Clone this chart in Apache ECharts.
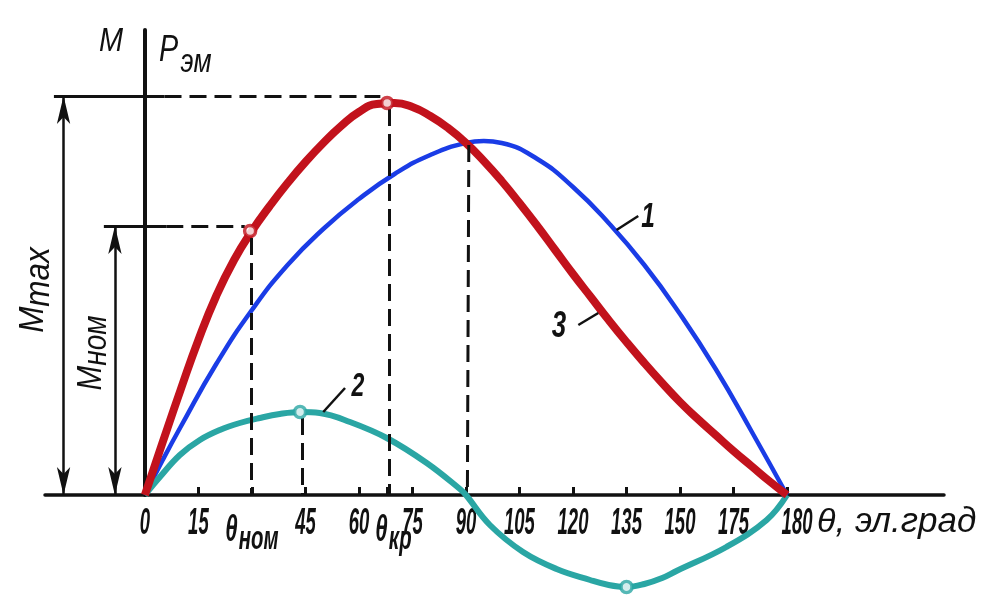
<!DOCTYPE html>
<html><head><meta charset="utf-8">
<script src="https://cdn.jsdelivr.net/npm/echarts@6/dist/echarts.min.js"></script>
<style>html,body{margin:0;padding:0;background:#fff}#c{width:982px;height:601px}</style>
</head><body><div id="c"></div>
<script>
// Curve 1 (blue), curve 3 (red), curve 2 (teal): [angle θ in el. degrees, value]
const curve1 = [[0,0],[5,35],[10,68],[20,131],[30,185],[40,230],[50,266],[60,296],[70,321],[80,340],[90,352],[95,354],[100,352],[110,336],[120,308],[130,272],[140,230],[150,181],[160,126],[170,64],[180,0]];
const curve3 = [[0,0],[5,53],[10,105],[15,155],[20,199],[25,235],[30,264],[35,289],[40,312],[45,333],[50,352],[55,369],[60,383],[65,391],[70,392],[75,388],[80,379],[85,367],[90,352],[95,334],[100,314],[105,292],[110,269],[115,245],[120,221],[125,198],[130,175],[135,153],[140,132],[145,112],[150,93],[155,76],[160,60],[165,44],[170,29],[175,14],[180,0]];
const curve2 = [[0,0],[4.2,18],[9.8,40],[15.4,55],[21,65],[26.6,72],[32.2,77],[37.8,81],[43.5,83],[49,82],[57.5,73],[67.8,57],[79,32],[88.3,6],[90,0],[96.7,-30],[106,-57],[115.4,-74],[124.8,-85],[130,-90],[135,-92],[140,-89],[145,-83],[149,-76],[163,-52],[174.3,-25],[180,0]];
const redPoints = [[29.5,264],[67.9,392]];
const tealPoints = [[43.5,83],[135,-92]];
const tickValues = [15,30,45,60,68,75,90,105,120,135,150,165,180];
const labelValues = [0,15,30,45,60,68,75,90,105,120,135,150,165,180];
const labelText = {0:'0',15:'15',30:'{t|θ}{s|ном}',45:'45',60:'60',68:'{t|θ}{s|кр}',75:'75',90:'90',105:'105',120:'120',135:'135',150:'150',165:'175',180:'180'};
const Mmax = 399, Mnom = 269;
const thetaNom = 29.8, thetaKr = 68.4, thetaM2 = 44.2, theta90 = 90.8, theta135 = 135;

const FONT = "'Liberation Sans',Arimo,sans-serif";
const RED = '#c2121c', BLUE = '#1a3ce6', TEAL = '#2aa6a4', INK = '#111';

const dashed = {type:[17,8], width:3, color:INK};
const solid = {type:'solid', width:3, color:INK};
const thin = {type:'solid', width:2.5, color:INK};
function seg(a, b, style) {
  return [{coord:a, lineStyle:style}, {coord:b}];
}
function txt(size, bold) {
  return {fontFamily:FONT, fontStyle:'italic', fontWeight: bold ? 'bold' : 'normal', fontSize:size, fill:INK};
}

const chart = echarts.init(document.getElementById('c'), null, {renderer:'canvas'});
chart.setOption({
  backgroundColor:'#fff',
  animation:false,
  grid:{left:45, right:38, top:30, bottom:106},
  xAxis:{
    type:'value', min:-28, max:224,
    axisLine:{onZero:true, lineStyle:{color:INK, width:3.5}},
    axisTick:{show:true, inside:true, length:8, lineStyle:{color:INK, width:3}, customValues: tickValues},
    axisLabel:{show:false},
    splitLine:{show:false}
  },
  yAxis:{
    type:'value', min:0, max:465,
    axisLine:{show:true, onZero:true, lineStyle:{color:INK, width:4}},
    axisTick:{show:false}, axisLabel:{show:false}, splitLine:{show:false}
  },
  series:[
    {
      name:'refs', type:'line', data:[], clip:false, silent:true,
      markLine:{
        silent:true, symbol:'none', animation:false,
        label:{show:false},
        lineStyle:dashed,
        data:[
          seg([-25.5,Mmax],[5.5,Mmax],solid),
          seg([5.5,Mmax],[66,Mmax],dashed),
          seg([thetaKr,386],[thetaKr,0],dashed),
          seg([-11.5,Mnom],[6,Mnom],solid),
          seg([6,Mnom],[28,Mnom],dashed),
          seg([thetaNom,257],[thetaNom,0],dashed),
          seg([thetaM2,77],[thetaM2,0],dashed),
          seg([theta90,350],[theta90-0.4,0],dashed),
          seg([theta135,-58],[theta135,-85],dashed),
          seg([132.2,265],[138.3,279],thin),
          seg([121.5,170],[127.1,182],thin),
          seg([50,83],[56.1,107],thin)
        ]
      }
    },
    {
      name:'arrows', type:'line', data:[], clip:false, silent:true,
      markLine:{
        silent:true, animation:false, symbol:['arrow','arrow'], symbolSize:[10,28],
        label:{show:false},
        data:[
          [{coord:[-22.8,0], lineStyle:thin},{coord:[-22.8,Mmax]}],
          [{coord:[-8.4,0], lineStyle:thin},{coord:[-8.4,Mnom]}]
        ]
      }
    },
    {name:'1', type:'line', data:curve1, smooth:0.5, showSymbol:false, clip:false, lineStyle:{color:BLUE, width:4.5}, z:3},
    {name:'3', type:'line', data:curve3, smooth:0.5, showSymbol:false, clip:false, lineStyle:{color:RED, width:8}, z:4},
    {name:'2', type:'line', data:curve2, smooth:0.4, showSymbol:false, clip:false, lineStyle:{color:TEAL, width:6}, z:3},
    {type:'scatter', data:redPoints, symbol:'circle', symbolSize:11, clip:false, itemStyle:{color:'#fff', borderColor:RED, borderWidth:3.5}, z:6},
    {type:'scatter', data:tealPoints, symbol:'circle', symbolSize:11, clip:false, itemStyle:{color:'#fff', borderColor:TEAL, borderWidth:3.5}, z:6}
  ]
});

// Tick labels placed at the axis values via the chart's own scale
const labelShift = {68:6, 180:10};
const graphics = labelValues.map(v => {
  const p = chart.convertToPixel({xAxisIndex:0, yAxisIndex:0}, [v, 0]);
  const isTheta = (v === 30 || v === 68);
  return {
    type:'text', x:p[0] + (labelShift[v] || 0), y:p[1] + 10, scaleX: isTheta ? 0.6 : 0.5, silent:true,
    style:Object.assign(txt(37, true), {
      text: labelText[v], align:'center', verticalAlign:'top',
      rich:{ t:txt(37, true), s:Object.assign(txt(34, true), {padding:[18,0,0,2]}) }
    })
  };
});

graphics.push(
  {type:'text', x:99, y:25, scaleX:0.85, style:Object.assign(txt(34), {text:'M'})},
  {type:'text', x:159, y:22, scaleX:0.8, style:Object.assign(txt(36), {text:'{p|P}{s|эм}',
    rich:{p:txt(36), s:Object.assign(txt(33), {padding:[24,0,0,3]})}})},
  {type:'text', x:33, y:290, rotation:Math.PI/2, scaleX:0.9, style:Object.assign(txt(35), {text:'{m|M}{s|max}', align:'center', verticalAlign:'middle',
    rich:{m:txt(35), s:Object.assign(txt(35), {padding:[12,0,0,0]})}})},
  {type:'text', x:91, y:353, rotation:Math.PI/2, scaleX:0.85, style:Object.assign(txt(35), {text:'{m|M}{s|ном}', align:'center', verticalAlign:'middle',
    rich:{m:txt(35), s:Object.assign(txt(33), {padding:[12,0,0,0]})}})},
  {type:'text', x:817, y:505, style:Object.assign(txt(35), {text:'{t|θ}{s|, эл.град}',
    rich:{t:txt(34), s:txt(35)}})},
  {type:'text', x:648, y:217, scaleX:0.7, style:Object.assign(txt(35, true), {text:'1', align:'center', verticalAlign:'middle'})},
  {type:'text', x:559, y:327, scaleX:0.7, style:Object.assign(txt(37, true), {text:'3', align:'center', verticalAlign:'middle'})},
  {type:'text', x:358, y:387, scaleX:0.7, style:Object.assign(txt(33, true), {text:'2', align:'center', verticalAlign:'middle'})}
);
chart.setOption({graphic: graphics});
</script></body></html>
